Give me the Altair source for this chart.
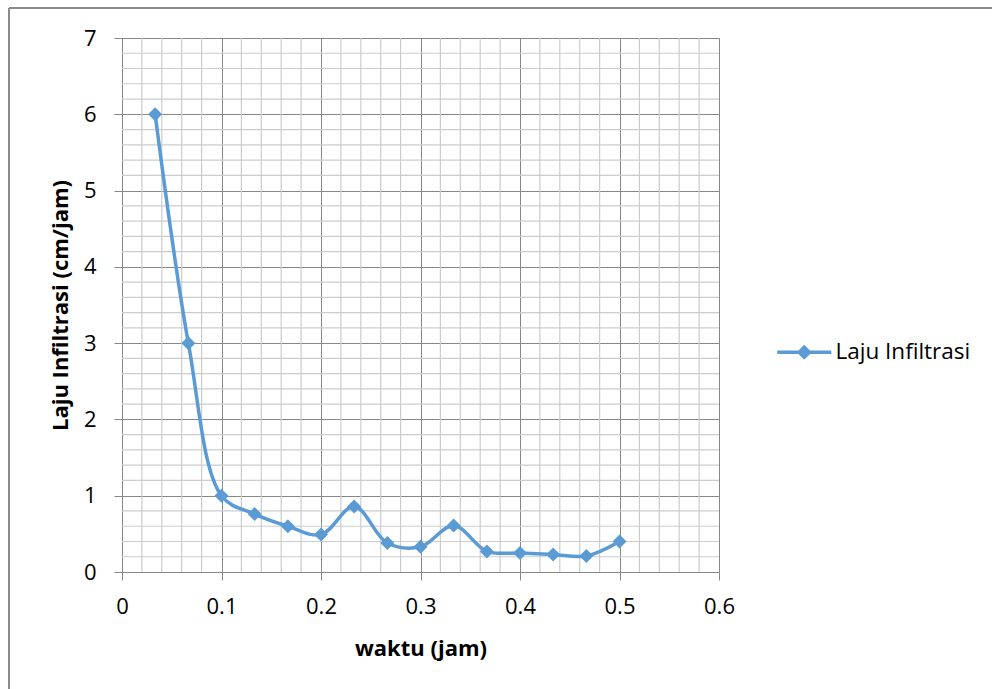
import altair as alt
import pandas as pd

# --- data ---
waktu = [0.0333, 0.0667, 0.1, 0.1333, 0.1667, 0.2, 0.2333, 0.2667,
         0.3, 0.3333, 0.3667, 0.4, 0.4333, 0.4667, 0.5]
laju = [6.0, 3.0, 1.0, 0.76, 0.6, 0.49, 0.86, 0.38,
        0.33, 0.61, 0.27, 0.25, 0.23, 0.21, 0.40]
series_name = "Laju Infiltrasi"

x_major = [0, 0.1, 0.2, 0.3, 0.4, 0.5, 0.6]
y_major = [0, 1, 2, 3, 4, 5, 6, 7]
x_minor = [0.02, 0.04, 0.06, 0.08, 0.12, 0.14, 0.16, 0.18, 0.22, 0.24, 0.26, 0.28,
           0.32, 0.34, 0.36, 0.38, 0.42, 0.44, 0.46, 0.48, 0.52, 0.54, 0.56, 0.58]
y_minor = [0.2, 0.4, 0.6, 0.8, 1.2, 1.4, 1.6, 1.8, 2.2, 2.4, 2.6, 2.8,
           3.2, 3.4, 3.6, 3.8, 4.2, 4.4, 4.6, 4.8, 5.2, 5.4, 5.6, 5.8,
           6.2, 6.4, 6.6, 6.8]

BLUE = "#5B9BD5"
GRID_MAJOR = "#878787"
GRID_MINOR = "#cccccc"
FONT = "Open Sans"
FS = 22

df = pd.DataFrame({"waktu": waktu, "laju": laju, "seri": [series_name] * len(waktu)})
df_xm = pd.DataFrame({"v": x_minor})
df_ym = pd.DataFrame({"v": y_minor})

xscale = alt.Scale(domain=[0, 0.6], nice=False, zero=False)
yscale = alt.Scale(domain=[0, 7], nice=False)

x_axis = alt.Axis(values=x_major, format=".1~f", title="waktu (jam)",
                  grid=True, gridColor=GRID_MAJOR, gridWidth=1,
                  domainColor=GRID_MAJOR, tickColor=GRID_MAJOR, tickSize=8,
                  labelFont=FONT, labelFontSize=FS, labelColor="#000000",
                  labelPadding=16, labelFlush=False,
                  titleFont=FONT, titleFontSize=FS, titleFontWeight="bold",
                  titleColor="#000000", titleY=76, titleBaseline="middle")
y_axis = alt.Axis(values=y_major, format="d", title="Laju Infiltrasi (cm/jam)",
                  grid=True, gridColor=GRID_MAJOR, gridWidth=1,
                  domainColor=GRID_MAJOR, tickColor=GRID_MAJOR, tickSize=8,
                  labelFont=FONT, labelFontSize=FS, labelColor="#000000",
                  labelPadding=18, labelFlush=False,
                  titleFont=FONT, titleFontSize=FS, titleFontWeight="bold",
                  titleColor="#000000", titleX=-62, titleBaseline="middle")

minor_x = alt.Chart(df_xm).mark_rule(color=GRID_MINOR, strokeWidth=1.2).encode(
    x=alt.X("v:Q", scale=xscale, axis=x_axis))
minor_y = alt.Chart(df_ym).mark_rule(color=GRID_MINOR, strokeWidth=1.2).encode(
    y=alt.Y("v:Q", scale=yscale, axis=y_axis))

line = alt.Chart(df).mark_line(interpolate="catmull-rom",
                               color=BLUE, strokeWidth=3.5).encode(
    x=alt.X("waktu:Q", scale=xscale, axis=x_axis),
    y=alt.Y("laju:Q", scale=yscale, axis=y_axis))

legend_path = "M-3.86,0L3.86,0M0,-0.72L0.72,0L0,0.72L-0.72,0Z"
points = alt.Chart(df).mark_point(shape="diamond", filled=True, size=196,
                                  opacity=1, stroke=BLUE, strokeWidth=0).encode(
    x=alt.X("waktu:Q", scale=xscale, axis=x_axis),
    y=alt.Y("laju:Q", scale=yscale, axis=y_axis),
    color=alt.Color("seri:N", scale=alt.Scale(range=[BLUE]),
                    legend=alt.Legend(title=None, orient="none",
                                      legendX=671, legendY=303, padding=0,
                                      symbolType=legend_path, symbolSize=196,
                                      symbolFillColor=BLUE, symbolStrokeColor=BLUE,
                                      symbolStrokeWidth=3.5, symbolOpacity=1,
                                      labelOffset=20, labelFont=FONT,
                                      labelFontSize=22.5, labelColor="#000000")))

# outer chart frame (decoration)
frame_left = alt.Chart(df).mark_rule(color="#8a8a8a", strokeWidth=1).encode(
    x=alt.value(-113), y=alt.value(-30), y2=alt.value(700))
frame_top = alt.Chart(df).mark_rule(color="#8a8a8a", strokeWidth=1).encode(
    x=alt.value(-113), x2=alt.value(900), y=alt.value(-30))

chart = alt.layer(minor_x, minor_y, line, points, frame_left, frame_top).properties(
    width=597, height=534,
    padding={"left": 122, "top": 38, "right": 273, "bottom": 117},
    autosize=alt.AutoSizeParams(type="none"),
    background="white",
).configure_view(strokeWidth=0)

chart.save("out.html", embed_options={"renderer": "svg", "actions": False})
